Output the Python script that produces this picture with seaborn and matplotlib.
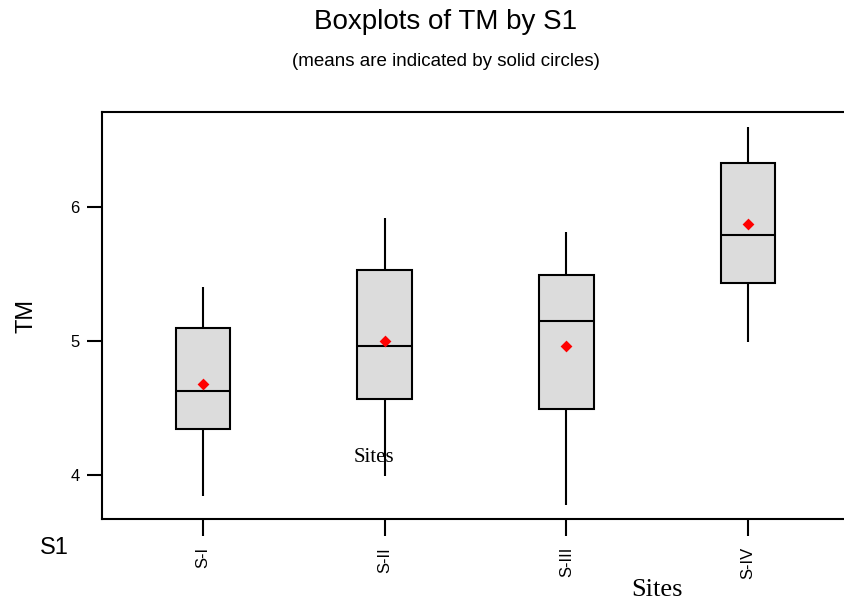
import numpy as np
import pandas as pd
import matplotlib
matplotlib.use("Agg")
import matplotlib.pyplot as plt
import seaborn as sns

# values
sites = ["S-I", "S-II", "S-III", "S-IV"]
whisker_low = [3.84, 3.99, 3.78, 4.99]
q1 = [4.34, 4.57, 4.49, 5.43]
median = [4.63, 4.96, 5.15, 5.79]
q3 = [5.10, 5.53, 5.49, 6.33]
whisker_high = [5.40, 5.92, 5.81, 6.60]
means = [4.68, 5.00, 4.96, 5.87]

sns.set_theme(style="ticks")
plt.rcParams['font.family'] = ['Liberation Sans', 'DejaVu Sans']
plt.rcParams['text.color'] = 'black'
plt.rcParams['axes.labelcolor'] = 'black'
plt.rcParams['xtick.color'] = 'black'
plt.rcParams['ytick.color'] = 'black'

# five points per site give exactly these quartiles and extremes
rows = []
for i, s in enumerate(sites):
    for v in (whisker_low[i], q1[i], median[i], q3[i], whisker_high[i]):
        rows.append({"S1": s, "TM": v})
df = pd.DataFrame(rows)
df_mean = pd.DataFrame({"S1": sites, "TM": means})

fig = plt.figure(figsize=(8.44, 6.02), dpi=100)
ax = fig.add_axes([102 / 844, 1 - 519 / 602, (844 - 102) / 844, (519 - 112) / 602])

line_kw = dict(color="black", linewidth=1.5)
sns.boxplot(data=df, x="S1", y="TM", order=sites, whis=(0, 100), width=0.3,
            color="#dcdcdc", linecolor="black", linewidth=1.5,
            showcaps=False, fliersize=0, ax=ax,
            boxprops=dict(facecolor="#dcdcdc", edgecolor="black", linewidth=1.5),
            medianprops=line_kw, whiskerprops=line_kw)
sns.scatterplot(data=df_mean, x="S1", y="TM", marker="D", color="red", s=36,
                edgecolor="red", linewidth=0, ax=ax, zorder=5)

ax.set_xlim(-0.556, 3.528)
ax.set_ylim(3.672, 6.709)
ax.set_yticks([4, 5, 6])
ax.set_xticks(range(len(sites)))
ax.set_xticklabels(sites, rotation=90, fontsize=12)
ax.tick_params(axis="y", labelsize=12, length=11, width=1.5, pad=5)
ax.tick_params(axis="x", length=12, width=1.5, pad=8)
for side in ["left", "top", "bottom"]:
    ax.spines[side].set_linewidth(1.5)
    ax.spines[side].set_color("black")
ax.spines["right"].set_visible(False)

ax.set_xlabel("")
ax.set_ylabel("TM", fontsize=17, labelpad=24)

fig.text(0.528, 1 - 22 / 602, "Boxplots of TM by S1", ha="center", va="center", fontsize=20)
fig.text(0.528, 1 - 62 / 602, "(means are indicated by solid circles)", ha="center",
         va="center", fontsize=13.5)
fig.text(54 / 844, 1 - 548 / 602, "S1", ha="center", va="center", fontsize=17)
fig.text(374 / 844, 1 - 457 / 602, "Sites", ha="center", va="center", fontsize=15,
         family=["Liberation Serif", "DejaVu Serif"])
fig.text(657 / 844, 1 - 590 / 602, "Sites", ha="center", va="center", fontsize=19,
         family=["Liberation Serif", "DejaVu Serif"])

fig.savefig("out.png", dpi=100)
